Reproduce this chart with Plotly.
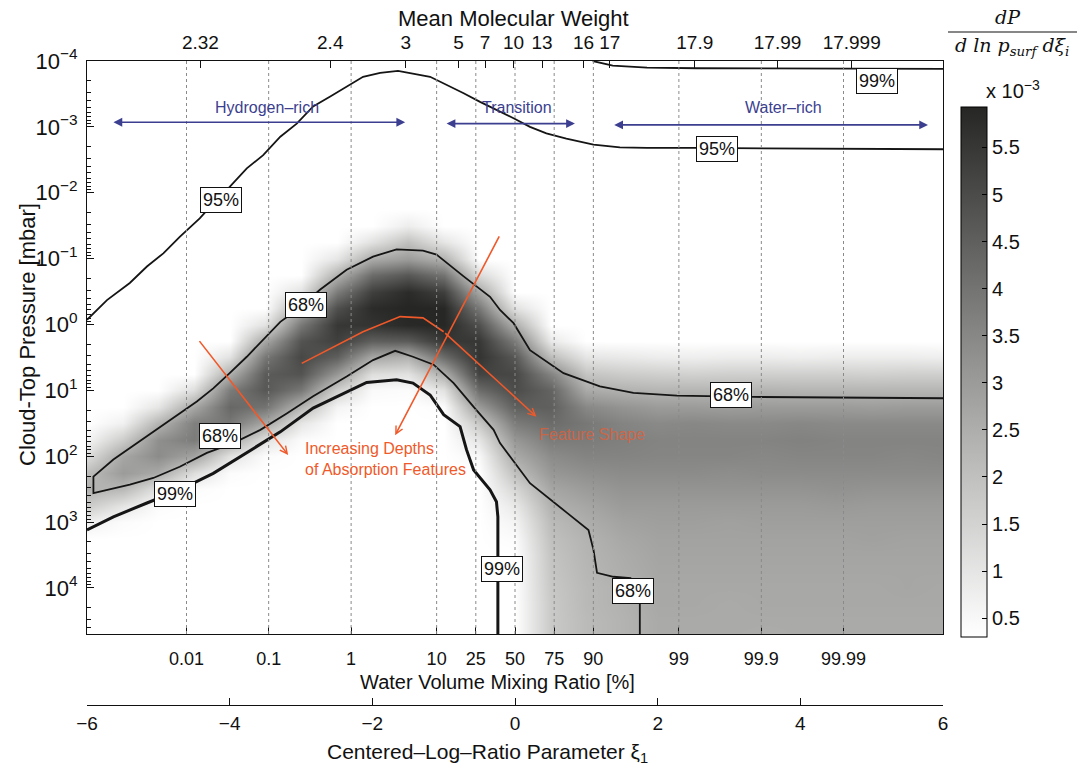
import numpy as np
import plotly.graph_objects as go

# ---------------- axis / tick data ----------------
vmr_percent = [0.01, 0.1, 1, 10, 25, 50, 75, 90, 99, 99.9, 99.99]
vmr_labels = ["0.01", "0.1", "1", "10", "25", "50", "75", "90", "99", "99.9", "99.99"]
mmw_labels = ["2.32", "2.4", "3", "5", "7", "10", "13", "16", "17", "17.9", "17.99", "17.999"]
mmw_tick_xi = [-4.41, -2.59, -1.53, -0.79, -0.42, -0.02, 0.38, 0.96, 1.33, 2.52, 3.68, 4.72]
xi_ticks = [-6, -4, -2, 0, 2, 4, 6]
pressure_decades = [-4, -3, -2, -1, 0, 1, 2, 3, 4]
cbar_ticks = [0.5, 1, 1.5, 2, 2.5, 3, 3.5, 4, 4.5, 5, 5.5]
cbar_labels = ["0.5", "1", "1.5", "2", "2.5", "3", "3.5", "4", "4.5", "5", "5.5"]

# ---------------- density (x 10^-3) ----------------
grid_xi = [-6.0, -5.5, -5.0, -4.5, -4.0, -3.5, -3.0, -2.5, -2.0, -1.5, -1.0, -0.5,
           0.0, 0.5, 1.0, 1.5, 2.0, 2.5, 3.0, 3.5, 4.0, 4.5, 5.0, 5.5, 6.0]
grid_logp = [-1.75, -1.5, -1.25, -1.0, -0.75, -0.5, -0.25, 0.0, 0.25, 0.5, 0.75, 1.0, 1.25,
             1.5, 1.75, 2.0, 2.25, 2.5, 2.75, 3.0, 3.25, 3.5, 3.75, 4.0, 4.25, 4.5, 4.75]
density_by_xi = [
    [.3, .3, .3, .3, .3, .3, .3, .3, .3, .3, .3, .3, .3, .3, .6, 1.2, 2.1, 2.4, 1.7, .7, .3, .3, .3, .3, .3, .3, .3],
    [.3, .3, .3, .3, .3, .3, .3, .3, .3, .3, .3, .3, .3, .7, 1.7, 2.7, 3.0, 2.2, 1.0, .4, .3, .3, .3, .3, .3, .3, .3],
    [.3, .3, .3, .3, .3, .3, .3, .3, .3, .3, .3, .3, 1.0, 2.3, 3.3, 3.4, 2.6, 1.1, .4, .3, .3, .3, .3, .3, .3, .3, .3],
    [.3, .3, .3, .3, .3, .3, .3, .3, .3, .3, .3, 1.2, 2.7, 3.7, 3.8, 2.8, 1.2, .4, .3, .3, .3, .3, .3, .3, .3, .3, .3],
    [.3, .3, .3, .3, .3, .3, .3, .3, .3, 1.1, 2.5, 3.8, 4.3, 3.9, 2.7, 1.1, .4, .3, .3, .3, .3, .3, .3, .3, .3, .3, .3],
    [.3, .3, .3, .3, .3, .3, .3, 1.1, 2.7, 3.9, 4.6, 4.7, 4.0, 2.7, 1.1, .4, .3, .3, .3, .3, .3, .3, .3, .3, .3, .3, .3],
    [.3, .3, .3, .3, .3, 1.1, 2.6, 3.9, 4.8, 5.1, 4.8, 3.9, 2.3, 1.0, .4, .3, .3, .3, .3, .3, .3, .3, .3, .3, .3, .3, .3],
    [.3, .3, .3, 1.0, 2.4, 3.8, 4.9, 5.5, 5.3, 4.5, 3.1, 1.6, .6, .3, .3, .3, .3, .3, .3, .3, .3, .3, .3, .3, .3, .3, .3],
    [.3, .3, 1.1, 2.6, 4.2, 5.3, 5.8, 5.6, 4.5, 2.7, 1.2, .45, .3, .3, .3, .3, .3, .3, .3, .3, .3, .3, .3, .3, .3, .3, .3],
    [.3, .8, 2.0, 3.0, 4.7, 5.8, 5.95, 5.85, 4.6, 2.4, 1.1, .4, .3, .3, .3, .3, .3, .3, .3, .3, .3, .3, .3, .3, .3, .3, .3],
    [.3, .3, 1.0, 2.4, 4.0, 5.3, 5.9, 5.9, 5.5, 4.2, 2.5, 1.1, .4, .3, .3, .3, .3, .3, .3, .3, .3, .3, .3, .3, .3, .3, .3],
    [.3, .3, .3, .3, 1.3, 2.7, 3.9, 4.9, 5.5, 5.6, 5.2, 4.2, 3.0, 1.8, 1.0, .5, .3, .3, .3, .3, .3, .3, .3, .3, .3, .3, .3],
    [.3, .3, .3, .3, .3, .3, 1.1, 2.5, 3.8, 4.7, 5.1, 5.0, 4.5, 3.8, 3.1, 2.6, 2.0, 1.4, .9, .6, .4, .3, .3, .3, .3, .3, .3],
    [.3, .3, .3, .3, .3, .3, .3, .3, .9, 2.1, 3.6, 4.4, 4.5, 4.2, 3.8, 3.4, 3.1, 2.7, 2.4, 2.15, 2.0, 1.9, 1.85, 1.8, 1.75, 1.75, 1.75],
    [.3, .3, .3, .3, .3, .3, .3, .3, .3, 1.0, 1.9, 2.6, 3.5, 3.9, 3.8, 3.6, 3.3, 3.0, 2.7, 2.5, 2.35, 2.3, 2.25, 2.2, 2.2, 2.15, 2.15],
    [.3, .3, .3, .3, .3, .3, .3, .3, .3, .9, 1.7, 2.4, 3.2, 3.6, 3.7, 3.6, 3.4, 3.2, 3.0, 2.8, 2.65, 2.55, 2.5, 2.4, 2.4, 2.35, 2.35],
    [.3, .3, .3, .3, .3, .3, .3, .3, .3, .8, 1.6, 2.3, 3.0, 3.45, 3.6, 3.55, 3.4, 3.2, 3.0, 2.9, 2.8, 2.75, 2.7, 2.65, 2.65, 2.6, 2.6],
    [.3, .3, .3, .3, .3, .3, .3, .3, .3, .75, 1.55, 2.3, 3.0, 3.5, 3.6, 3.55, 3.4, 3.2, 3.0, 2.9, 2.8, 2.75, 2.7, 2.65, 2.65, 2.6, 2.6],
    [.3, .3, .3, .3, .3, .3, .3, .3, .3, .8, 1.6, 2.3, 2.95, 3.45, 3.6, 3.55, 3.35, 3.2, 3.0, 2.85, 2.8, 2.75, 2.7, 2.65, 2.6, 2.6, 2.6],
    [.3, .3, .3, .3, .3, .3, .3, .3, .3, .8, 1.6, 2.35, 3.0, 3.45, 3.6, 3.5, 3.4, 3.2, 3.0, 2.9, 2.8, 2.75, 2.7, 2.65, 2.65, 2.6, 2.55],
    [.3, .3, .3, .3, .3, .3, .3, .3, .3, .75, 1.6, 2.3, 3.0, 3.5, 3.65, 3.55, 3.4, 3.2, 3.0, 2.9, 2.8, 2.75, 2.7, 2.65, 2.65, 2.6, 2.6],
    [.3, .3, .3, .3, .3, .3, .3, .3, .3, .8, 1.6, 2.3, 3.0, 3.45, 3.6, 3.55, 3.4, 3.25, 3.05, 2.9, 2.8, 2.75, 2.7, 2.65, 2.65, 2.6, 2.6],
    [.3, .3, .3, .3, .3, .3, .3, .3, .3, .8, 1.55, 2.3, 2.95, 3.45, 3.6, 3.55, 3.4, 3.2, 3.0, 2.9, 2.85, 2.75, 2.7, 2.65, 2.65, 2.6, 2.6],
    [.3, .3, .3, .3, .3, .3, .3, .3, .3, .8, 1.6, 2.3, 3.0, 3.45, 3.6, 3.5, 3.4, 3.2, 3.0, 2.9, 2.8, 2.75, 2.7, 2.7, 2.65, 2.6, 2.6],
    [.3, .3, .3, .3, .3, .3, .3, .3, .3, .75, 1.6, 2.3, 3.0, 3.45, 3.6, 3.55, 3.4, 3.2, 3.0, 2.9, 2.8, 2.75, 2.7, 2.65, 2.65, 2.6, 2.6],
]

# ---------------- credible-region contours (xi, log10 p[mbar]) ----------------
c95_xi = [-6.0, -5.72, -5.40, -5.16, -4.93, -4.70, -4.42, -4.23, -4.00, -3.76, -3.53, -3.29, -3.06, -2.83,
          -2.59, -2.36, -2.13, -1.89, -1.64, -1.19, -0.96, -0.72, -0.49, -0.26, -0.02, 0.21, 0.44, 0.72,
          1.10, 1.47, 1.85, 2.55, 6.0]
c95_logp = [-0.07, -0.37, -0.63, -0.88, -1.08, -1.33, -1.61, -1.84, -2.09, -2.37, -2.57, -2.85, -3.05, -3.31,
            -3.46, -3.61, -3.76, -3.82, -3.85, -3.76, -3.64, -3.51, -3.38, -3.26, -3.13, -3.00, -2.90, -2.82,
            -2.73, -2.69, -2.68, -2.68, -2.66]
c99_top_xi = [1.09, 1.37, 1.85, 2.55, 6.0]
c99_top_logp = [-4.0, -3.93, -3.90, -3.89, -3.88]
c68_upper_xi = [-5.91, -5.63, -5.40, -5.16, -4.93, -4.70, -4.46, -4.23, -4.00, -3.76, -3.53, -3.29, -3.06,
                -2.73, -2.36, -1.99, -1.66, -1.29, -1.10, -0.72, -0.35, -0.21, -0.02, 0.21, 0.68, 1.19, 1.66,
                2.27, 3.34, 6.0]
c68_upper_logp = [2.31, 2.05, 1.88, 1.70, 1.52, 1.35, 1.17, 0.97, 0.74, 0.49, 0.23, -0.04, -0.22, -0.53,
                  -0.83, -1.03, -1.14, -1.12, -1.06, -0.73, -0.42, -0.22, -0.02, 0.39, 0.74, 0.94, 1.04,
                  1.08, 1.10, 1.12]
c68_lower_xi = [-5.91, -5.40, -5.07, -4.70, -4.32, -3.95, -3.57, -3.20, -2.83, -2.36, -1.99, -1.68, -1.43,
                -1.14, -0.86, -0.58, -0.30, -0.21, 0.21, 0.73, 1.03, 1.10, 1.15, 1.38, 1.62, 1.75, 1.75]
c68_lower_logp = [2.56, 2.43, 2.33, 2.16, 1.95, 1.80, 1.60, 1.35, 1.09, 0.79, 0.54, 0.40, 0.49, 0.61, 0.89,
                  1.25, 1.60, 1.80, 2.41, 2.86, 3.12, 3.42, 3.77, 3.83, 3.85, 4.05, 4.70]
c99_low_xi = [-6.0, -5.63, -5.16, -4.70, -4.23, -3.76, -3.29, -2.83, -2.45, -2.08, -1.66, -1.43, -1.19,
              -1.00, -0.77, -0.68, -0.58, -0.35, -0.26, -0.24, -0.24]
c99_low_logp = [3.12, 2.92, 2.71, 2.51, 2.26, 1.95, 1.63, 1.27, 1.07, 0.88, 0.84, 0.89, 1.07, 1.37, 1.55,
                1.90, 2.21, 2.51, 2.69, 2.92, 4.70]

# orange "feature shape" path
shape_xi = [-2.99, -2.13, -1.61, -1.29, -1.00, 0.30]
shape_logp = [0.59, 0.11, -0.12, -0.10, 0.11, 1.40]

# ---------------- layout helpers ----------------
W, H = 1080, 780
ML, MR, MT, MB = 87, 137, 61, 75
PW = W - ML - MR
PH = H - MT - MB
Y_DOM0 = (H - MB - 634) / PH


def pxx(x):
    return (x - ML) / PW


def pyy(y):
    return (H - MB - y) / PH


FONT = "Liberation Sans, Arial, Helvetica, sans-serif"
SERIF = "DejaVu Serif, Liberation Serif, serif"
ORANGE = "#f0592a"
BLUE = "#3c3f8f"
LINE = "#151515"

vmr_xi = [0.5 * np.log(p / (100.0 - p)) for p in vmr_percent]

fig = go.Figure()

fig.add_trace(go.Heatmap(
    x=grid_xi, y=[10 ** v for v in grid_logp], z=np.array(density_by_xi).T,
    zsmooth="best", zmin=0.3, zmax=5.93,
    colorscale=[[0, "#ffffff"], [0.5, "#979795"], [1, "#262624"]],
    hoverinfo="skip",
    colorbar=dict(
        x=pxx(961), xanchor="left", y=pyy(372), yanchor="middle",
        thickness=26, thicknessmode="pixels", len=530, lenmode="pixels",
        tickvals=cbar_ticks, ticktext=cbar_labels, ticks="inside", ticklen=5,
        tickcolor="black", tickfont=dict(family=FONT, size=20, color="#111"),
        outlinecolor="black", outlinewidth=1, ypad=0, xpad=0,
    ),
))


def add_line(xs, lps, width):
    fig.add_trace(go.Scatter(x=xs, y=[10 ** v for v in lps], mode="lines",
                             line=dict(color=LINE, width=width), hoverinfo="skip",
                             showlegend=False))


add_line(c95_xi, c95_logp, 1.8)
add_line(c99_top_xi, c99_top_logp, 1.8)
add_line(c68_upper_xi[::-1] + c68_lower_xi, c68_upper_logp[::-1] + c68_lower_logp, 1.8)
add_line(c99_low_xi, c99_low_logp, 3.0)

fig.add_trace(go.Scatter(x=shape_xi[:-1], y=[10 ** v for v in shape_logp[:-1]], mode="lines",
                         line=dict(color=ORANGE, width=1.6), hoverinfo="skip", showlegend=False))

# dummy traces so the extra x axes are drawn
fig.add_trace(go.Scatter(x=[0], y=[1], xaxis="x2", yaxis="y", mode="markers",
                         marker=dict(opacity=0), hoverinfo="skip", showlegend=False))
fig.add_trace(go.Scatter(x=[0], y=[1], xaxis="x3", yaxis="y", mode="markers",
                         marker=dict(opacity=0), hoverinfo="skip", showlegend=False))

ann = []
# contour labels
for txt, xi, lp in [("95%", -4.12, -1.89), ("95%", 2.83, -2.66), ("99%", 5.08, -3.70),
                    ("68%", -2.93, -0.30), ("68%", -4.14, 1.69), ("68%", 3.03, 1.07),
                    ("68%", 1.65, 4.04), ("99%", -4.77, 2.57), ("99%", -0.18, 3.71)]:
    ann.append(dict(x=xi, y=lp, xref="x", yref="y", text=txt, showarrow=False,
                    xanchor="center", yanchor="middle",
                    font=dict(family=FONT, size=18, color="#111"), bgcolor="white",
                    bordercolor="#111", borderwidth=1, borderpad=2))

# orange arrows
for hx, hy, tx, ty in [(-3.18, 1.98, -4.44, 0.23), (-1.68, 1.68, -0.21, -1.36),
                       (shape_xi[-1], shape_logp[-1], shape_xi[-2], shape_logp[-2])]:
    ann.append(dict(x=hx, y=hy, ax=tx, ay=ty, xref="x", yref="y", axref="x", ayref="y",
                    text="", showarrow=True, arrowhead=5, arrowsize=0.9, arrowwidth=1.6,
                    arrowcolor=ORANGE))
ann.append(dict(x=pxx(303), y=pyy(459), xref="paper", yref="paper", xanchor="left",
                yanchor="middle", align="left", showarrow=False,
                text="Increasing Depths<br>of Absorption Features",
                font=dict(family=FONT, size=16, color=ORANGE)))
ann.append(dict(x=pxx(592), y=pyy(434), xref="paper", yref="paper", showarrow=False,
                xanchor="center", yanchor="middle",
                text="Feature Shape", opacity=0.75,
                font=dict(family=FONT, size=16, color="#e0603a")))

# blue regime arrows
for x0, x1, lp, label, lx in [(-5.65, -1.54, -3.07, "Hydrogen–rich", -3.48),
                              (-0.98, 0.84, -3.05, "Transition", 0.03),
                              (1.37, 5.79, -3.03, "Water–rich", 3.76)]:
    ann.append(dict(x=x1, y=lp, ax=x0, ay=lp, xref="x", yref="y", axref="x", ayref="y",
                    text="", showarrow=True, arrowhead=2, arrowside="end+start",
                    arrowsize=1.1, arrowwidth=1.6, arrowcolor=BLUE))
    ann.append(dict(x=lx, y=-3.30, xref="x", yref="y", text=label, showarrow=False,
                    xanchor="center", yanchor="middle",
                    font=dict(family=FONT, size=16, color=BLUE)))


def ptext(x, y, text, size, family=FONT, style="normal", **kw):
    d = dict(x=pxx(x), y=pyy(y), xref="paper", yref="paper", showarrow=False,
             xanchor="center", yanchor="middle", text=text,
             font=dict(family=family, size=size, color="#111", style=style))
    d.update(kw)
    return d


# axis titles and colorbar header
ann += [
    ptext(513, 19, "Mean Molecular Weight", 22),
    ptext(497, 682, "Water Volume Mixing Ratio [%]", 20),
    ptext(487, 753, "Centered–Log–Ratio Parameter ξ<sub>1</sub>", 21),
    ptext(27, 335, "Cloud-Top Pressure [mbar]", 22, textangle=-90),
    ptext(1013, 90, "x 10<sup>−3</sup>", 20),
    ptext(1008, 17, "dP", 19, family=SERIF, style="italic"),
    ptext(1012, 47, "d ln p<sub>surf</sub> dξ<sub>i</sub>", 19, family=SERIF, style="italic"),
]

shapes = [dict(type="line", xref="paper", yref="paper", x0=pxx(948), x1=pxx(1077),
               y0=pyy(32), y1=pyy(32), line=dict(color="#111", width=1.2))]
for v in vmr_xi:
    shapes.append(dict(type="line", xref="x", yref="y domain", x0=v, x1=v, y0=0, y1=1,
                       layer="above", line=dict(color="#8a8a8a", width=1, dash="dot")))

minor_vals = [k * 10.0 ** n for n in range(-4, 5) for k in range(2, 10)]

axis_common = dict(showgrid=False, zeroline=False, showline=True, linecolor="#111",
                   linewidth=1, ticks="inside", ticklen=7, tickcolor="#111",
                   tickfont=dict(family=FONT, size=19, color="#111"))

fig.update_layout(
    width=W, height=H, autosize=False,
    margin=dict(l=ML, r=MR, t=MT, b=MB),
    paper_bgcolor="white", plot_bgcolor="white", showlegend=False,
    xaxis=dict(range=[-6, 6], anchor="y", tickmode="array", tickvals=vmr_xi,
               ticktext=vmr_labels, ticklabelstandoff=8,
               **{**axis_common, "tickfont": dict(family=FONT, size=18, color="#111")}),
    xaxis2=dict(range=[-6, 6], overlaying="x", side="top", anchor="y", tickmode="array",
                tickvals=mmw_tick_xi, ticktext=mmw_labels, ticklabelstandoff=3,
                **axis_common),
    xaxis3=dict(range=[-6, 6], overlaying="x", anchor="free", position=0, side="bottom",
                tickmode="array", tickvals=xi_ticks, ticklabelstandoff=1, **axis_common),
    yaxis=dict(type="log", range=[np.log10(5e4), -4], domain=[Y_DOM0, 1], mirror=True,
               tickmode="array", tickvals=[10.0 ** k for k in pressure_decades],
               ticktext=["10<sup>" + ("−" if k < 0 else "") + str(abs(k)) + "</sup>"
                         for k in pressure_decades],
               minor=dict(tickmode="array", tickvals=minor_vals, ticks="inside", ticklen=4,
                          tickcolor="#111", showgrid=False),
               ticklabelstandoff=4,
               **{**axis_common, "tickfont": dict(family=FONT, size=22, color="#111")}),
    annotations=ann,
    shapes=shapes,
)

fig.write_html("out.html")
